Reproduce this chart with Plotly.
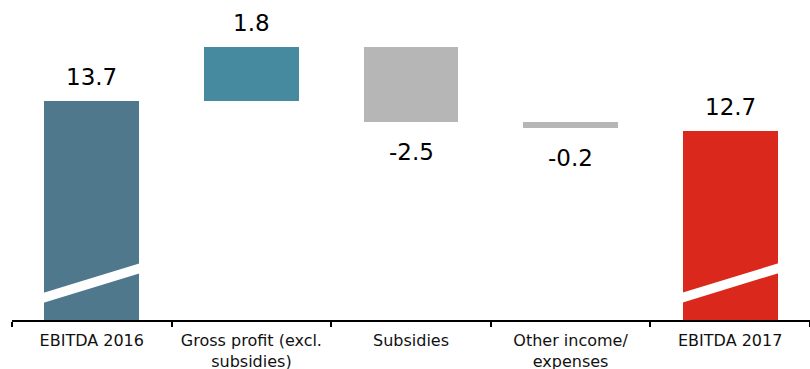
import plotly.graph_objects as go

categories = ["EBITDA 2016", "Gross profit (excl.<br>subsidies)", "Subsidies", "Other income/<br>expenses", "EBITDA 2017"]
values = [13.7, 1.8, -2.5, -0.2, 12.7]
measures = ["total", "relative", "relative", "relative", "total"]
labels = ["13.7", "1.8", "-2.5", "-0.2", "12.7"]
colors = ["#4F788C", "#458A9E", "#B6B6B6", "#B6B6B6", "#DA291C"]
axis_start = 6.4
axis_end = 16.73

bases, heights = [], []
running = 0.0
for v, m in zip(values, measures):
    if m == "total":
        bases.append(0.0)
        heights.append(v)
        running = v
    else:
        bases.append(running)
        heights.append(v)
        running += v

bar_w = 0.594

fig = go.Figure()
fig.add_trace(go.Bar(x=categories, y=heights, base=bases, width=bar_w,
                     marker=dict(color=colors, line=dict(width=0)),
                     hoverinfo="skip"))

# value labels
for i, (b, h, t) in enumerate(zip(bases, heights, labels)):
    top = b + h
    if h >= 0:
        fig.add_annotation(x=categories[i], y=top, text=t, showarrow=False, yanchor="bottom",
                           yshift=9, font=dict(size=23, color="#000000", family="DejaVu Sans"))
    else:
        fig.add_annotation(x=categories[i], y=top, text=t, showarrow=False, yanchor="top",
                           yshift=-15, font=dict(size=23, color="#000000", family="DejaVu Sans"))

# axis-break slashes on the total bars
slash_low = [6.97, 7.97]
slash_high = [7.3, 8.3]
for i, m in enumerate(measures):
    if m == "total":
        x0, x1 = i - bar_w / 2 - 0.01, i + bar_w / 2 + 0.01
        path = (f"M {x0},{slash_low[0]} L {x1},{slash_low[1]} "
                f"L {x1},{slash_high[1]} L {x0},{slash_high[0]} Z")
        fig.add_shape(type="path", path=path, xref="x", yref="y",
                      fillcolor="white", line=dict(width=0), layer="above")

fig.update_layout(
    width=810, height=369,
    margin=dict(l=12, r=0, t=10, b=49),
    plot_bgcolor="white", paper_bgcolor="white",
    showlegend=False, bargap=0,
    xaxis=dict(type="category", range=[-0.5, len(categories) - 0.5],
               showline=True, linecolor="black", linewidth=1.5,
               ticks="outside", tickson="boundaries", ticklen=5, tickcolor="black", tickwidth=1.5,
               ticklabelstandoff=5, automargin=False,
               showgrid=False, zeroline=False,
               tickfont=dict(size=16, color="#111111", family="DejaVu Sans")),
    yaxis=dict(range=[axis_start, axis_end], visible=False, showgrid=False, zeroline=False,
               automargin=False),
)

fig.write_html("out.html")
